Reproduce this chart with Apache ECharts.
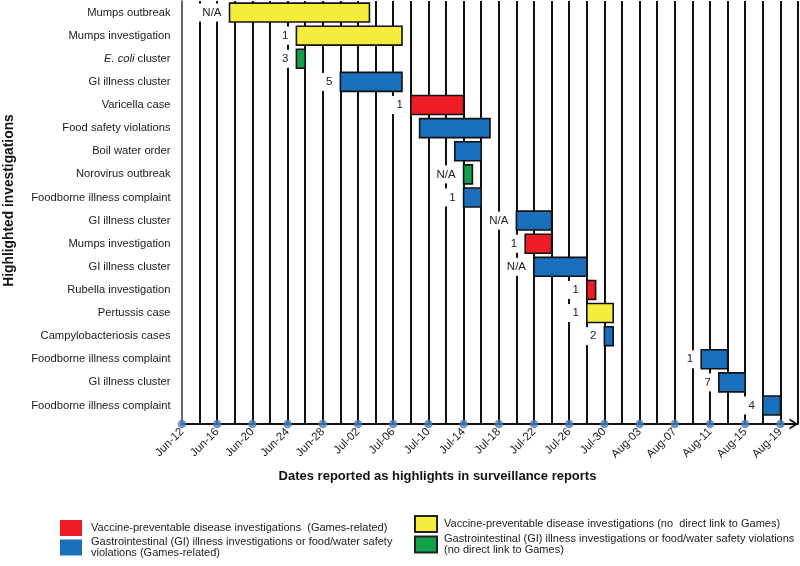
<!DOCTYPE html>
<html><head><meta charset="utf-8">
<script src="https://cdn.jsdelivr.net/npm/echarts@6/dist/echarts.min.js"></script>
<style>html,body{margin:0;padding:0;background:#fff}#c{width:800px;height:566px}</style>
</head><body><div id="c"></div>
<script>
// ---- data (x = days since Jun-12) ----
const tickLabels = ['Jun-12','Jun-16','Jun-20','Jun-24','Jun-28','Jul-02','Jul-06','Jul-10','Jul-14','Jul-18','Jul-22','Jul-26','Jul-30','Aug-03','Aug-07','Aug-11','Aug-15','Aug-19'];
const rows = ['Mumps outbreak','Mumps investigation','E. coli cluster','GI illness cluster','Varicella case','Food safety violations','Boil water order','Norovirus outbreak','Foodborne illness complaint','GI illness cluster','Mumps investigation','GI illness cluster','Rubella investigation','Pertussis case','Campylobacteriosis cases','Foodborne illness complaint','GI illness cluster','Foodborne illness complaint'];
const barStart = [5.4, 13, 13, 18, 26, 27, 31, 32, 32, 38, 39, 40, 46, 46, 48, 59, 61, 66];
const barEnd   = [21.3, 25, 14, 25, 32, 35, 34, 33, 34, 42, 42, 46, 47, 49, 49, 62, 64, 68];
const barGroup = [1, 1, 3, 2, 0, 2, 2, 3, 2, 2, 0, 2, 0, 1, 2, 2, 2, 2];
const barNote  = ['N/A','1','3','5','1','','','N/A','1','N/A','1','N/A','1','1','2','1','7','4'];
const groupNames = [
  'Vaccine-preventable disease investigations  (Games-related)',
  'Vaccine-preventable disease investigations (no  direct link to Games)',
  'Gastrointestinal (GI) illness investigations or food/water safety\nviolations (Games-related)',
  'Gastrointestinal (GI) illness investigations or food/water safety violations\n(no direct link to Games)'
];
const groupColors = ['#EE1D25', '#F5EC3B', '#1A6FBC', '#14A04B'];

const FONT = '"Liberation Sans", Arial, sans-serif';
const Y_MIN = -0.5, Y_MAX = 17.8, X_MAX = 70;

function renderItem(params, api) {
  const s = api.value(0), e = api.value(1), r = api.value(2);
  const p0 = api.coord([s, r]);
  const p1 = api.coord([e, r]);
  const h = api.size([0, 1])[1] * 0.82;
  const color = api.visual('color');
  const children = [{
    type: 'rect',
    shape: { x: p0[0], y: p0[1] - h / 2, width: p1[0] - p0[0], height: h },
    style: { fill: color, stroke: '#111', lineWidth: 1.6 }
  }];
  const note = barNote[r];
  if (note) {
    children.push({
      type: 'text',
      x: p0[0] - 2, y: p0[1],
      style: {
        text: note, align: 'right', verticalAlign: 'middle',
        fill: '#222', font: '11.5px ' + FONT,
        backgroundColor: '#fff', padding: [3, 6, 3, 5]
      }
    });
  }
  return { type: 'group', children };
}

const series = groupNames.map((name, g) => ({
  type: 'custom',
  name,
  renderItem,
  encode: { x: [0, 1], y: 2 },
  itemStyle: g === 1 || g === 3 ? { color: groupColors[g], borderColor: '#222', borderWidth: 1.2 } : { color: groupColors[g] },
  data: rows.map((_, i) => i).filter(i => barGroup[i] === g).map(i => [barStart[i], barEnd[i], i]),
  z: 3
}));

const tickDays = tickLabels.map((_, i) => i * 4);
series.push({
  type: 'scatter',
  name: 'ticks',
  data: tickDays.map(d => [d, Y_MAX]),
  symbolSize: 8.5,
  itemStyle: { color: '#4A7EBB' },
  clip: false,
  silent: true,
  z: 10
});

function legendAt(idx, left, top, pad) {
  return {
    data: [groupNames[idx]],
    left, top,
    orient: 'vertical',
    selectedMode: false,
    icon: 'rect',
    itemWidth: 22, itemHeight: 16,
    padding: 0,
    textStyle: { fontFamily: FONT, fontSize: 11, color: '#222', lineHeight: 11.5, padding: pad }
  };
}

const option = {
  animation: false,
  backgroundColor: '#fff',
  grid: { left: 182, right: 2, top: 1, bottom: 142, containLabel: false, outerBoundsMode: 'none' },
  legend: [
    legendAt(0, 60, 520, [0, 0, 4, 4]),
    legendAt(2, 60, 531, [10, 0, 0, 4]),
    legendAt(1, 414, 515, [0, 0, 6, 2]),
    legendAt(3, 414, 531, [0, 0, 4, 2])
  ],
  xAxis: {
    type: 'value', min: 0, max: X_MAX, interval: 2,
    name: 'Dates reported as highlights in surveillance reports',
    nameLocation: 'middle', nameGap: 46, nameMoveOverlap: false,
    nameTextStyle: { fontFamily: FONT, fontWeight: 'bold', fontSize: 13, color: '#111', padding: [0, 105, 0, 0] },
    axisLine: { show: true, onZero: false, lineStyle: { color: '#111', width: 2 },
      symbol: ['none', 'path://M0,10 L6,0 L12,10 L9.8,10 L6,3.8 L2.2,10 Z'], symbolSize: [11, 14], symbolOffset: [0, -4] },
    axisTick: { show: false },
    splitLine: { show: true, showMinLine: false, showMaxLine: true, lineStyle: { color: '#111', width: 2 } },
    axisLabel: {
      rotate: 45, margin: 6, fontFamily: FONT, fontSize: 11.5, color: '#222',
      showMaxLabel: false,
      formatter: v => (v % 4 === 0 && tickLabels[v / 4]) ? tickLabels[v / 4] : ''
    }
  },
  yAxis: {
    type: 'value', inverse: true, min: Y_MIN, max: Y_MAX, interval: 0.5,
    name: 'Highlighted investigations',
    nameLocation: 'middle', nameGap: 166, nameRotate: 90, nameMoveOverlap: false,
    nameTextStyle: { fontFamily: FONT, fontWeight: 'bold', fontSize: 13.8, color: '#111', padding: [0, 0, 0, 24] },
    axisLine: { show: true, onZero: false, lineStyle: { color: '#333', width: 1.5 } },
    axisTick: { show: false },
    splitLine: { show: false },
    axisLabel: {
      margin: 11.5, fontFamily: FONT, fontSize: 11.2, color: '#1a1a1a',
      showMinLabel: false, showMaxLabel: false,
      formatter: v => {
        const k = Math.round(v);
        if (Math.abs(v - k) > 1e-6 || k < 0 || k >= rows.length) return '';
        return rows[k].replace('E. coli', '{i|E. coli}');
      },
      rich: { i: { fontStyle: 'italic', fontFamily: FONT, fontSize: 11.2, color: '#1a1a1a' } }
    }
  },
  series
};

const chart = echarts.init(document.getElementById('c'), null, { renderer: 'canvas' });
chart.setOption(option);
</script>
</body></html>
